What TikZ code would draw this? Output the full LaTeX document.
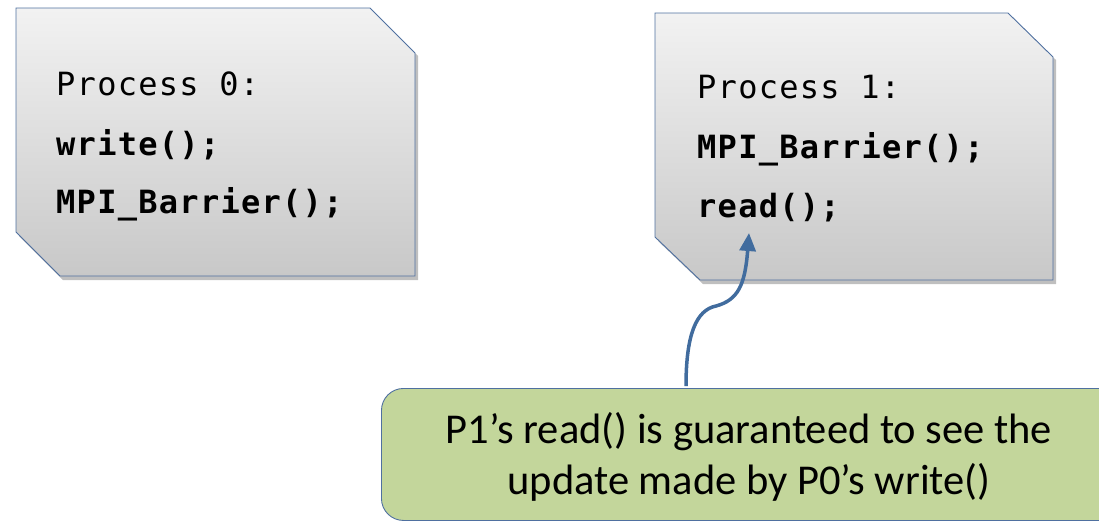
\documentclass[tikz,border=0pt]{standalone}
\usepackage{fontspec}
\setmainfont{Carlito}
\newfontfamily\codefont[LetterSpace=4]{DejaVu Sans Mono}
\usetikzlibrary{arrows.meta}
\definecolor{boxline}{RGB}{79,112,160}
\definecolor{boxtop}{RGB}{242,242,242}
\definecolor{boxbot}{RGB}{200,200,200}
\definecolor{notefill}{RGB}{195,214,155}
\definecolor{arrowcol}{RGB}{65,108,158}
\tikzset{
  procbox/.style={draw=boxline, line width=0.9pt, top color=boxtop, bottom color=boxbot},
  boxshadow/.style={fill=black, opacity=0.25},
  codeline/.style={anchor=base west, inner sep=0pt, font=\codefont\fontsize{32}{34}\selectfont},
  notebox/.style={draw=boxline, line width=0.9pt, fill=notefill, rounded corners=22pt},
  noteline/.style={anchor=base, inner sep=0pt, font=\fontsize{42.5}{46}\selectfont},
  link/.style={draw=arrowcol, line width=3.5pt, -{Triangle[length=18pt,width=16pt]}}
}
\begin{document}
\begin{tikzpicture}[x=1pt,y=-1pt]
\useasboundingbox (0,0) rectangle (1099,520);
% Process 0 box
\fill[boxshadow] (19,11) -- (373,11) -- (418,56) -- (418,280) -- (63,280) -- (19,236) -- cycle;
\path[procbox] (16,8) -- (370,8) -- (415,53) -- (415,276) -- (60,276) -- (16,232) -- cycle;
\node[codeline] (p0a) at (56,95) {Process 0:};
\node[codeline] (p0b) at (56,155) {\bfseries write();};
\node[codeline] (p0c) at (56,213) {\bfseries MPI\_Barrier();};
% Process 1 box
\fill[boxshadow] (658,16) -- (1011,16) -- (1056,60) -- (1056,284) -- (703,284) -- (658,241) -- cycle;
\path[procbox] (655,13) -- (1008,13) -- (1053,57) -- (1053,280) -- (700,280) -- (655,237) -- cycle;
\node[codeline] (p1a) at (697,98) {Process 1:};
\node[codeline] (p1b) at (697,158) {\bfseries MPI\_Barrier();};
\node[codeline] (p1c) at (697,217) {\bfseries read();};
% note
\node[notebox, anchor=north west, minimum width=745pt, minimum height=132pt, inner sep=0pt] (note) at (381,388) {};
\node[noteline] (n1) at (749,443) {P1’s read() is guaranteed to see the};
\node[noteline] (n2) at (749,494) {update made by P0’s write()};
% arrow
\coordinate (astart) at (686,386);
\coordinate (akink) at (716,306);
\coordinate (atip) at (749,233);
\draw[link] (astart) .. controls (686,335) and (696,310) .. (akink)
  .. controls (738,300) and (745,285) .. (atip);
\end{tikzpicture}
\end{document}
